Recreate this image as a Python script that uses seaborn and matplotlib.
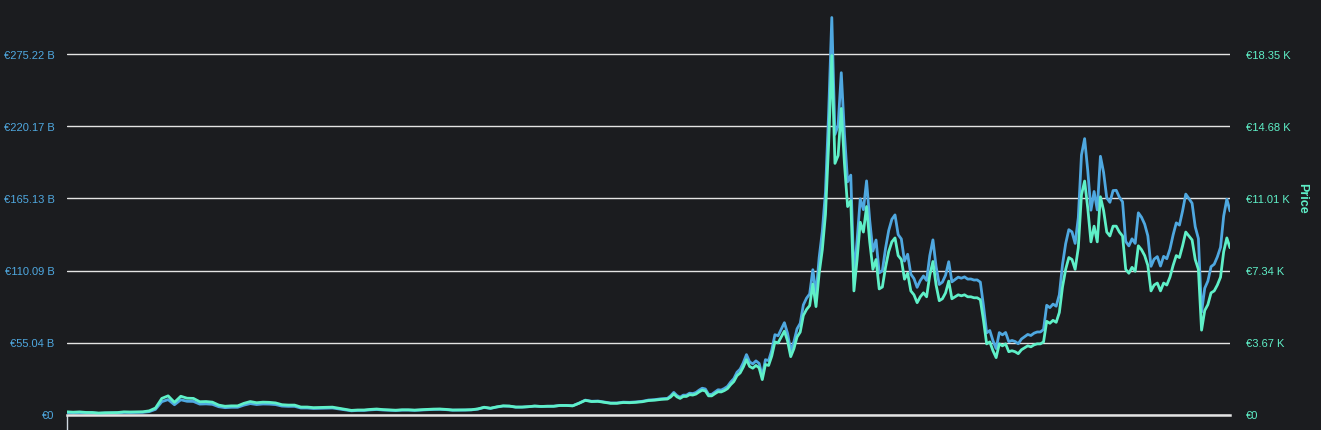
import matplotlib
matplotlib.use("Agg")
import matplotlib.pyplot as plt
import pandas as pd
import seaborn as sns

# ---- data (two sampling periods) ----
# 2013-04-28 .. 2016-12-18, every 14 days
price_2013_2016_k = [
    0.135, 0.117, 0.133, 0.105, 0.103, 0.075, 0.090, 0.095, 0.100, 0.135,
    0.127, 0.133, 0.140, 0.185, 0.330, 0.820, 0.950, 0.620, 0.930, 0.830,
    0.820, 0.650, 0.660, 0.630, 0.480, 0.420, 0.440, 0.440, 0.570, 0.660,
    0.600, 0.630, 0.620, 0.590, 0.500, 0.480, 0.480, 0.380, 0.380, 0.350,
    0.360, 0.370, 0.375, 0.320, 0.270, 0.210, 0.230, 0.230, 0.260, 0.280,
    0.250, 0.235, 0.220, 0.240, 0.240, 0.225, 0.245, 0.260, 0.275, 0.280,
    0.260, 0.230, 0.230, 0.235, 0.245, 0.285, 0.370, 0.320, 0.390, 0.440,
    0.430, 0.380, 0.380, 0.400, 0.430, 0.410, 0.420, 0.420, 0.460, 0.460,
    0.440, 0.570, 0.720, 0.660, 0.670, 0.620, 0.570, 0.570, 0.610, 0.600,
    0.620, 0.650, 0.710, 0.730, 0.770, 0.790,
]
mcap_2013_2016_b = [
    1.50, 1.30, 1.49, 1.18, 1.16, 0.85, 1.03, 1.09, 1.15, 1.57,
    1.48, 1.56, 1.65, 2.19, 3.93, 9.80, 11.40, 7.47, 11.25, 10.10,
    10.00, 7.96, 8.12, 7.78, 5.95, 5.23, 5.50, 5.52, 7.18, 8.35,
    7.62, 8.03, 7.94, 7.58, 6.45, 6.22, 6.24, 4.96, 4.98, 4.60,
    4.75, 4.90, 4.99, 4.27, 3.62, 2.82, 3.10, 3.12, 3.54, 3.82,
    3.43, 3.23, 3.04, 3.32, 3.34, 3.14, 3.43, 3.65, 3.88, 3.96,
    3.69, 3.28, 3.29, 3.38, 3.53, 4.12, 5.37, 4.66, 5.69, 6.45,
    6.32, 5.60, 5.62, 5.94, 6.41, 6.13, 6.30, 6.32, 6.95, 6.97,
    6.69, 8.69, 11.00, 10.10, 10.30, 9.56, 8.80, 8.81, 9.44, 9.30,
    9.62, 10.10, 11.05, 11.38, 12.02, 12.35,
]
# 2016-12-25 .. 2020-05-17, every 7 days
price_2017_2020_k = [
    0.89, 1.05, 0.90, 0.82, 0.92, 0.92, 1.01, 0.99, 1.04, 1.15,
    1.24, 1.20, 0.95, 0.95, 1.06, 1.16, 1.15, 1.22, 1.32, 1.52,
    1.68, 1.98, 2.12, 2.42, 2.80, 2.45, 2.36, 2.50, 2.38, 1.78,
    2.55, 2.50, 2.98, 3.70, 3.65, 3.95, 4.25, 3.75, 2.95, 3.35,
    3.95, 4.20, 5.05, 5.35, 5.55, 6.65, 5.50, 7.20, 8.40, 10.2,
    13.8, 18.3, 12.8, 13.2,
    15.6, 12.8, 10.6, 10.9, 6.3, 7.9, 9.8, 9.3, 10.6, 8.8,
    7.4, 7.9, 6.4, 6.5, 7.5, 8.3, 8.8, 9.0, 8.1, 7.9,
    6.9, 7.2, 6.3, 6.1, 5.7, 6.0, 6.2, 6.0, 7.1, 7.8,
    6.6, 5.8, 5.9, 6.2, 6.8, 5.9, 6.0, 6.1, 6.05, 6.1,
    6.0, 6.0, 5.95, 5.95, 5.85, 4.8, 3.6, 3.7, 3.25, 2.9,
    3.6, 3.5,
    3.6, 3.2, 3.25, 3.2, 3.1, 3.3, 3.4, 3.5, 3.45, 3.55,
    3.6, 3.6, 3.7, 4.75, 4.65, 4.8, 4.7, 5.2, 6.5, 7.4,
    8.0, 7.9, 7.4, 8.5, 11.2, 11.9, 10.5, 8.8, 9.6, 8.8,
    11.1, 10.4, 9.3, 9.1, 9.6, 9.6, 9.3, 9.1, 7.4, 7.2,
    7.5, 7.3, 8.6, 8.4, 8.1, 7.6, 6.3, 6.6, 6.7, 6.3,
    6.7, 6.6,
    7.0, 7.6, 8.1, 8.0, 8.6, 9.3, 9.1, 8.9, 7.9, 7.4,
    4.3, 5.3, 5.6, 6.2, 6.3, 6.6, 7.0, 8.3, 9.0, 8.5,
]
mcap_2017_2020_b = [
    14.3, 16.9, 14.5, 13.2, 14.8, 14.8, 16.3, 16.0, 16.8, 18.6,
    20.1, 19.5, 15.4, 15.4, 17.2, 18.9, 18.7, 19.9, 21.5, 24.8,
    27.4, 32.3, 34.7, 39.6, 45.8, 40.2, 38.7, 41.0, 39.1, 29.3,
    41.9, 41.2, 49.1, 61.0, 60.2, 65.2, 70.2, 62.0, 48.8, 55.5,
    65.5, 69.7, 83.8, 88.9, 92.2, 110.7, 91.6, 120.0, 140.0, 170.2,
    230.5, 303.5, 214.1, 221.0,
    261.3, 214.5, 177.9, 183.0, 105.8, 132.8, 164.9, 156.6, 178.6, 148.4,
    124.9, 133.4, 108.2, 109.9, 127.0, 140.6, 149.2, 152.6, 137.5, 134.2,
    117.3, 122.5, 107.3, 103.9, 97.2, 102.4, 105.9, 102.5, 121.4, 133.5,
    113.1, 99.4, 101.2, 106.5, 116.8, 101.4, 103.2, 105.0, 104.2, 105.2,
    103.5, 103.6, 102.8, 102.9, 101.2, 83.1, 62.4, 64.2, 56.4, 50.4,
    62.6, 60.9,
    62.7, 55.7, 56.6, 55.8, 54.1, 57.7, 59.4, 61.2, 60.4, 62.2,
    63.1, 63.1, 65.0, 83.5, 81.7, 84.4, 82.8, 91.6, 114.6, 130.6,
    141.3, 139.6, 130.8, 150.5, 198.4, 210.9, 186.2, 156.2, 170.5, 156.4,
    197.4, 185.1, 165.6, 162.2, 171.2, 171.4, 166.1, 162.6, 132.3, 128.9,
    134.3, 130.8, 154.2, 150.8, 145.5, 136.6, 113.3, 118.8, 120.7, 113.5,
    120.9, 119.1,
    126.4, 137.3, 146.5, 144.8, 155.7, 168.5, 165.1, 161.5, 143.5, 134.5,
    78.2, 96.5, 102.0, 113.0, 114.9, 120.5, 127.8, 151.7, 164.6, 155.6,
]

left_tick_values_b = [0, 55.044, 110.088, 165.132, 220.176, 275.22]
left_tick_labels = ["€0", "€55.04 B", "€110.09 B", "€165.13 B", "€220.17 B", "€275.22 B"]
right_tick_values_k = [0, 3.67, 7.34, 11.01, 14.68, 18.35]
right_tick_labels = ["€0", "€3.67 K", "€7.34 K", "€11.01 K", "€14.68 K", "€18.35 K"]
right_axis_title = "Price"

# ---- build table ----
dates1 = pd.date_range("2013-04-28", periods=len(price_2013_2016_k), freq="14D")
dates2 = pd.date_range("2016-12-25", periods=len(price_2017_2020_k), freq="7D")
df = pd.DataFrame({
    "date": list(dates1) + list(dates2),
    "price": price_2013_2016_k + price_2017_2020_k,
    "mcap": mcap_2013_2016_b + mcap_2017_2020_b,
})

BG = "#1b1c1f"
BLUE = "#4fa8e0"
GREEN = "#5ff0c8"
GRID = "#e4e4e4"

sns.set_theme(style="dark")
plt.rcParams["font.family"] = ["Liberation Sans", "DejaVu Sans"]

W, H = 1321, 431
fig = plt.figure(figsize=(W / 100, H / 100), dpi=100, facecolor=BG)
ax = fig.add_axes([67 / W, 15.5 / H, (1230 - 67) / W, (414 - 8) / H])
ax.set_facecolor(BG)

sns.lineplot(data=df, x="date", y="mcap", ax=ax, color=BLUE, linewidth=2.0)
ax2 = ax.twinx()
sns.lineplot(data=df, x="date", y="price", ax=ax2, color=GREEN, linewidth=2.0)

ymax_left = 406 * 55.044 / 72
ax.set_ylim(0, ymax_left)
ax2.set_ylim(0, ymax_left * 18.35 / 275.22)
ax.set_xlim(df["date"].iloc[0], df["date"].iloc[-1])

ax.set_yticks(left_tick_values_b)
ax.set_yticklabels(left_tick_labels)
ax2.set_yticks(right_tick_values_k)
ax2.set_yticklabels(right_tick_labels)

ax.grid(axis="y", color=GRID, linewidth=1.0)
ax.grid(axis="x", visible=False)
ax2.grid(False)
ax.set_axisbelow(True)

for a in (ax, ax2):
    for s in ("left", "right", "top", "bottom"):
        a.spines[s].set_visible(False)
ax.spines["bottom"].set_visible(True)
ax.spines["bottom"].set_color(GRID)
ax.spines["bottom"].set_linewidth(1.8)

ax.tick_params(axis="y", length=0, pad=9, labelcolor=BLUE, labelsize=8)
ax2.tick_params(axis="y", length=0, pad=11.5, labelcolor=GREEN, labelsize=8)
ax.set_xticks([df["date"].iloc[0]])
ax.set_xticklabels([""])
ax.tick_params(axis="x", length=13, width=1, color="#cfd8e0", bottom=True)

ax.set_xlabel("")
ax.set_ylabel("")
ax2.set_ylabel("")

fig.text(1302 / W, 1 - 198 / H, right_axis_title, rotation=-90, ha="center",
         va="center", color=GREEN, fontsize=9, fontweight="bold")

fig.savefig("out.png", dpi=100, facecolor=BG)
